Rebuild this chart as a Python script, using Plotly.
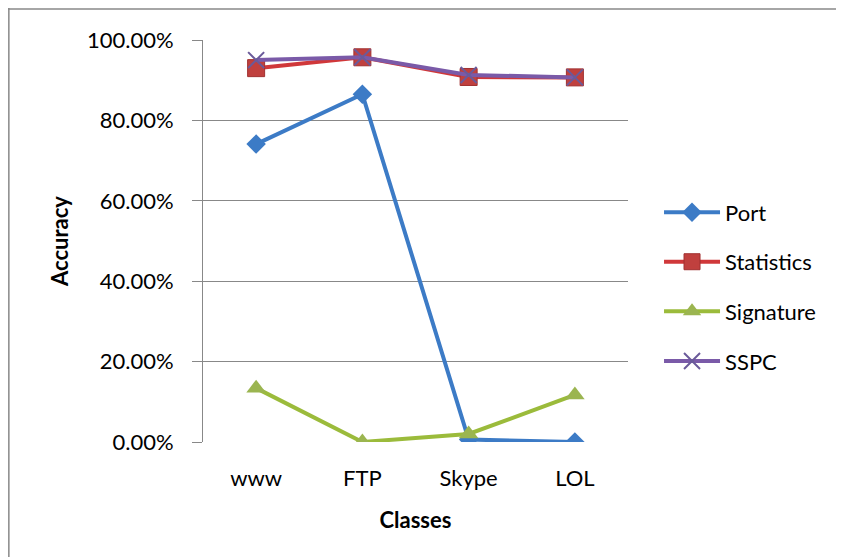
import plotly.graph_objects as go

classes = ["www", "FTP", "Skype", "LOL"]
port = [0.741, 0.865, 0.006, 0.0]
statistics = [0.930, 0.957, 0.908, 0.907]
signature = [0.134, 0.0, 0.020, 0.117]
sspc = [0.950, 0.957, 0.913, 0.907]
y_ticks = [0, 0.2, 0.4, 0.6, 0.8, 1.0]

FONT = "Lato, Open Sans, sans-serif"

fig = go.Figure()
fig.add_trace(go.Scatter(x=classes, y=port, name="Port", mode="lines+markers",
                         line=dict(color="#3C7BC6", width=4),
                         marker=dict(symbol="diamond", size=15, color="#3C7BC6")))
fig.add_trace(go.Scatter(x=classes, y=statistics, name="Statistics", mode="lines+markers",
                         line=dict(color="#D0383A", width=4),
                         marker=dict(symbol="square", size=17, color="#C0403E",
                                     line=dict(color="#A03030", width=1))))
fig.add_trace(go.Scatter(x=classes, y=signature, name="Signature", mode="lines+markers",
                         line=dict(color="#9BBB3B", width=4),
                         marker=dict(symbol="triangle-up", size=17, color="#9BB550")))
fig.add_trace(go.Scatter(x=classes, y=sspc, name="SSPC", mode="lines+markers",
                         line=dict(color="#7A5AA8", width=4),
                         marker=dict(symbol="x-thin", size=16, color="#6A5A9A",
                                     line=dict(color="#6A5A9A", width=2))))
for i, tr in enumerate(fig.data):
    tr.legendgroup = str(i)

fig.update_layout(
    width=844, height=557,
    margin=dict(l=195, r=224, t=32, b=123),
    paper_bgcolor="white", plot_bgcolor="white",
    font=dict(family=FONT, size=22, color="black"),
    showlegend=True,
    legend=dict(x=1.073, y=0.386, xanchor="left", yanchor="middle",
                font=dict(family=FONT, size=22),
                tracegroupgap=18, itemwidth=56),
    shapes=[
        dict(type="line", xref="paper", yref="paper",
             x0=-195/425 + 0.002, x1=-195/425 + 0.002, y0=-123/402, y1=1 + 32/402,
             line=dict(color="#888888", width=1.5)),
        dict(type="line", xref="paper", yref="paper",
             x0=-195/425, x1=1 + 224/425, y0=1 + 31/402, y1=1 + 31/402,
             line=dict(color="#888888", width=1.5)),
    ],
)
fig.update_xaxes(title=dict(text="<b>Classes</b>", standoff=22,
                            font=dict(family=FONT, size=22)),
                 range=[-0.5, 3.5],
                 showgrid=False, showline=False, ticks="",
                 tickfont=dict(family=FONT, size=22), ticklabelstandoff=21)
fig.update_yaxes(title=dict(text="<b>Accuracy</b>", standoff=12,
                            font=dict(family=FONT, size=22)),
                 range=[0, 1], tickvals=y_ticks, tickformat=".2%",
                 showgrid=True, gridcolor="#888888", gridwidth=1,
                 showline=True, linecolor="#888888", linewidth=1,
                 ticks="outside", ticklen=10, tickcolor="#888888",
                 tickfont=dict(family=FONT, size=22),
                 zeroline=False, ticklabelstandoff=14)

fig.write_html("out.html")
